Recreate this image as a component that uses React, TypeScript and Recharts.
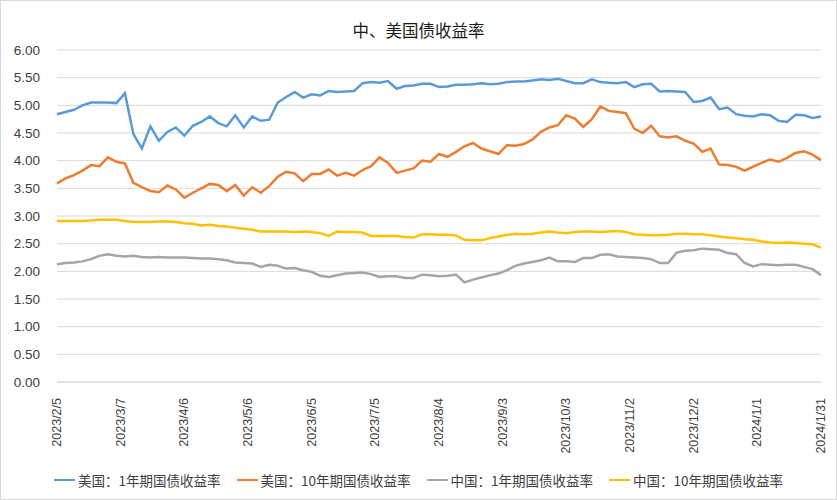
import { CartesianGrid, Line, LineChart, XAxis, YAxis } from "recharts";

// day offsets from 2023/2/5
const days = [
  0, 4, 8, 12, 16, 20, 24, 28, 32, 36, 40, 44, 48, 52, 56, 60, 64, 68, 72, 76,
  80, 84, 88, 92, 96, 100, 104, 108, 112, 116, 120, 124, 128, 132, 136, 140, 144, 148, 152, 156,
  160, 164, 168, 172, 176, 180, 184, 188, 192, 196, 200, 204, 208, 212, 216, 220, 224, 228, 232, 236,
  240, 244, 248, 252, 256, 260, 264, 268, 272, 276, 280, 284, 288, 292, 296, 300, 304, 308, 312, 316,
  320, 324, 328, 332, 336, 340, 344, 348, 352, 356, 360,
];

const us1y = [
  4.84, 4.88, 4.92, 5.0, 5.05, 5.05, 5.05, 5.04, 5.22, 4.48, 4.22, 4.62, 4.36, 4.52, 4.6, 4.45, 4.63, 4.7, 4.8, 4.68,
  4.62, 4.82, 4.6, 4.8, 4.72, 4.74, 5.05, 5.15, 5.24, 5.14, 5.2, 5.18, 5.26, 5.24, 5.25, 5.26, 5.4, 5.42, 5.41, 5.44,
  5.3, 5.35, 5.36, 5.39, 5.39, 5.33, 5.34, 5.37, 5.37, 5.38, 5.4, 5.38, 5.39, 5.42, 5.43, 5.43, 5.45, 5.47, 5.46, 5.48,
  5.44, 5.4, 5.4, 5.47, 5.42, 5.41, 5.4, 5.42, 5.33, 5.38, 5.39, 5.25, 5.26, 5.25, 5.24, 5.06, 5.08, 5.14, 4.93, 4.96,
  4.84, 4.81, 4.8, 4.84, 4.82, 4.72, 4.7, 4.83, 4.82, 4.77, 4.8,
];

const us10y = [
  3.59, 3.68, 3.74, 3.82, 3.92, 3.9, 4.06, 3.98, 3.95, 3.6, 3.52, 3.45, 3.43, 3.55, 3.48, 3.33, 3.42, 3.5, 3.58, 3.56,
  3.45, 3.56, 3.37, 3.52, 3.42, 3.54, 3.71, 3.8, 3.77, 3.63, 3.76, 3.76, 3.84, 3.73, 3.78, 3.73, 3.83, 3.9, 4.06, 3.96,
  3.78, 3.82, 3.86, 4.0, 3.98, 4.12, 4.07, 4.16, 4.26, 4.32, 4.22, 4.17, 4.12, 4.28, 4.27, 4.3, 4.38, 4.52, 4.6, 4.64,
  4.82, 4.76, 4.61, 4.75, 4.98, 4.9, 4.88, 4.86, 4.58, 4.5, 4.63, 4.44, 4.42, 4.44, 4.36, 4.31, 4.16, 4.22, 3.93, 3.92,
  3.89, 3.82, 3.89, 3.96, 4.02, 3.98, 4.05, 4.14, 4.17, 4.11, 4.01,
];

const cn1y = [
  2.13, 2.15, 2.16, 2.18, 2.22, 2.28, 2.31, 2.28, 2.27, 2.28, 2.26, 2.25, 2.26, 2.25, 2.25, 2.25, 2.24, 2.23, 2.23, 2.22,
  2.2, 2.16, 2.15, 2.14, 2.08, 2.12, 2.1, 2.05, 2.06, 2.02, 1.99, 1.92, 1.9, 1.93, 1.96, 1.97, 1.98, 1.95, 1.9, 1.91,
  1.91, 1.88, 1.88, 1.94, 1.93, 1.91, 1.92, 1.94, 1.8, 1.85, 1.89, 1.93, 1.96, 2.02, 2.1, 2.14, 2.17, 2.2, 2.25, 2.18,
  2.18, 2.17, 2.24, 2.24, 2.3, 2.31, 2.27, 2.26, 2.25, 2.24, 2.22, 2.15, 2.15, 2.34, 2.37, 2.38, 2.41, 2.4, 2.39, 2.33,
  2.31, 2.15, 2.09, 2.13, 2.12, 2.11, 2.12, 2.12, 2.08, 2.04, 1.93,
];

const cn10y = [
  2.91, 2.91, 2.91, 2.91, 2.92, 2.93, 2.93, 2.93, 2.91, 2.89, 2.89, 2.89, 2.9, 2.9, 2.89, 2.87, 2.86, 2.83, 2.84, 2.82,
  2.81, 2.79, 2.77, 2.75, 2.72, 2.72, 2.72, 2.72, 2.71, 2.72, 2.71, 2.69, 2.64, 2.72, 2.71, 2.71, 2.7, 2.64, 2.64, 2.64,
  2.64, 2.62, 2.61, 2.67, 2.67, 2.66, 2.66, 2.65, 2.57, 2.56, 2.56, 2.6, 2.63, 2.66, 2.68, 2.67, 2.68, 2.7, 2.72, 2.7,
  2.69, 2.71, 2.72, 2.72, 2.71, 2.72, 2.73, 2.71, 2.67, 2.66, 2.65, 2.65, 2.66, 2.68, 2.68, 2.67, 2.67, 2.65, 2.63, 2.61,
  2.6, 2.58, 2.57, 2.54, 2.52, 2.51, 2.52, 2.51, 2.5, 2.49, 2.43,
];

const tickDays = [0, 30, 60, 90, 120, 150, 180, 210, 240, 270, 300, 330, 360];
const tickLabels = [
  "2023/2/5", "2023/3/7", "2023/4/6", "2023/5/6", "2023/6/5", "2023/7/5", "2023/8/4",
  "2023/9/3", "2023/10/3", "2023/11/2", "2023/12/2", "2024/1/1", "2024/1/31",
];
const yTicks = [0, 0.5, 1, 1.5, 2, 2.5, 3, 3.5, 4, 4.5, 5, 5.5, 6];

const seriesNames = ["美国：1年期国债收益率", "美国：10年期国债收益率", "中国：1年期国债收益率", "中国：10年期国债收益率"];
const seriesKeys = ["us1y", "us10y", "cn1y", "cn10y"];
const colors = ["#5B9BD5", "#ED7D31", "#A5A5A5", "#FFC000"];

const data = days.map((d, i) => ({ d, us1y: us1y[i], us10y: us10y[i], cn1y: cn1y[i], cn10y: cn10y[i] }));

const cjk = '"Noto Sans CJK SC", "Liberation Sans", sans-serif';
const latin = '"Liberation Sans", Arial, sans-serif';

function DateTick({ x, y, payload }: any) {
  const idx = tickDays.indexOf(payload.value);
  return (
    <g transform={`translate(${x},${y})`}>
      <text transform="rotate(-90)" x={-8} y={0} textAnchor="end" dominantBaseline="central" fill="#404040" fontSize={12.5} fontFamily={latin}>
        {tickLabels[idx]}
      </text>
    </g>
  );
}

export default function App() {
  return (
    <div style={{ position: "absolute", left: 0, top: 0, width: 835, height: 498, border: "1px solid #d9d9d9", background: "#fff" }}>
      <div style={{ position: "absolute", left: 0, top: 17, width: 835, textAlign: "center", fontSize: 16.5, fontFamily: cjk, color: "#1a1a1a" }}>
        中、美国债收益率
      </div>
      <LineChart width={835} height={498} data={data} margin={{ top: 49, right: 15, left: 0, bottom: 0 }}>
        <CartesianGrid vertical={false} stroke="#d9d9d9" />
        <XAxis
          dataKey="d"
          type="number"
          domain={[0, 360]}
          ticks={tickDays}
          interval={0}
          tickLine={false}
          axisLine={{ stroke: "#d9d9d9" }}
          tick={<DateTick />}
          height={117}
        />
        <YAxis
          domain={[0, 6]}
          ticks={yTicks}
          interval={0}
          width={56}
          tickLine={false}
          axisLine={false}
          tickMargin={11}
          tickFormatter={(v: number) => v.toFixed(2)}
          tick={{ fill: "#404040", fontSize: 13.5, fontFamily: latin }}
        />
        {seriesKeys.map((k, i) => (
          <Line key={k} dataKey={k} stroke={colors[i]} strokeWidth={2.5} dot={false} isAnimationActive={false} type="linear" />
        ))}
      </LineChart>
      <div style={{ position: "absolute", left: 0, top: 469, width: 835, display: "flex", justifyContent: "center", gap: 16, fontFamily: cjk, fontSize: 13.5, color: "#404040" }}>
        {seriesNames.map((n, i) => (
          <div key={n} style={{ display: "flex", alignItems: "center" }}>
            <span style={{ display: "inline-block", width: 21, height: 2.5, background: colors[i], marginRight: 3 }} />
            <span>{n}</span>
          </div>
        ))}
      </div>
    </div>
  );
}
